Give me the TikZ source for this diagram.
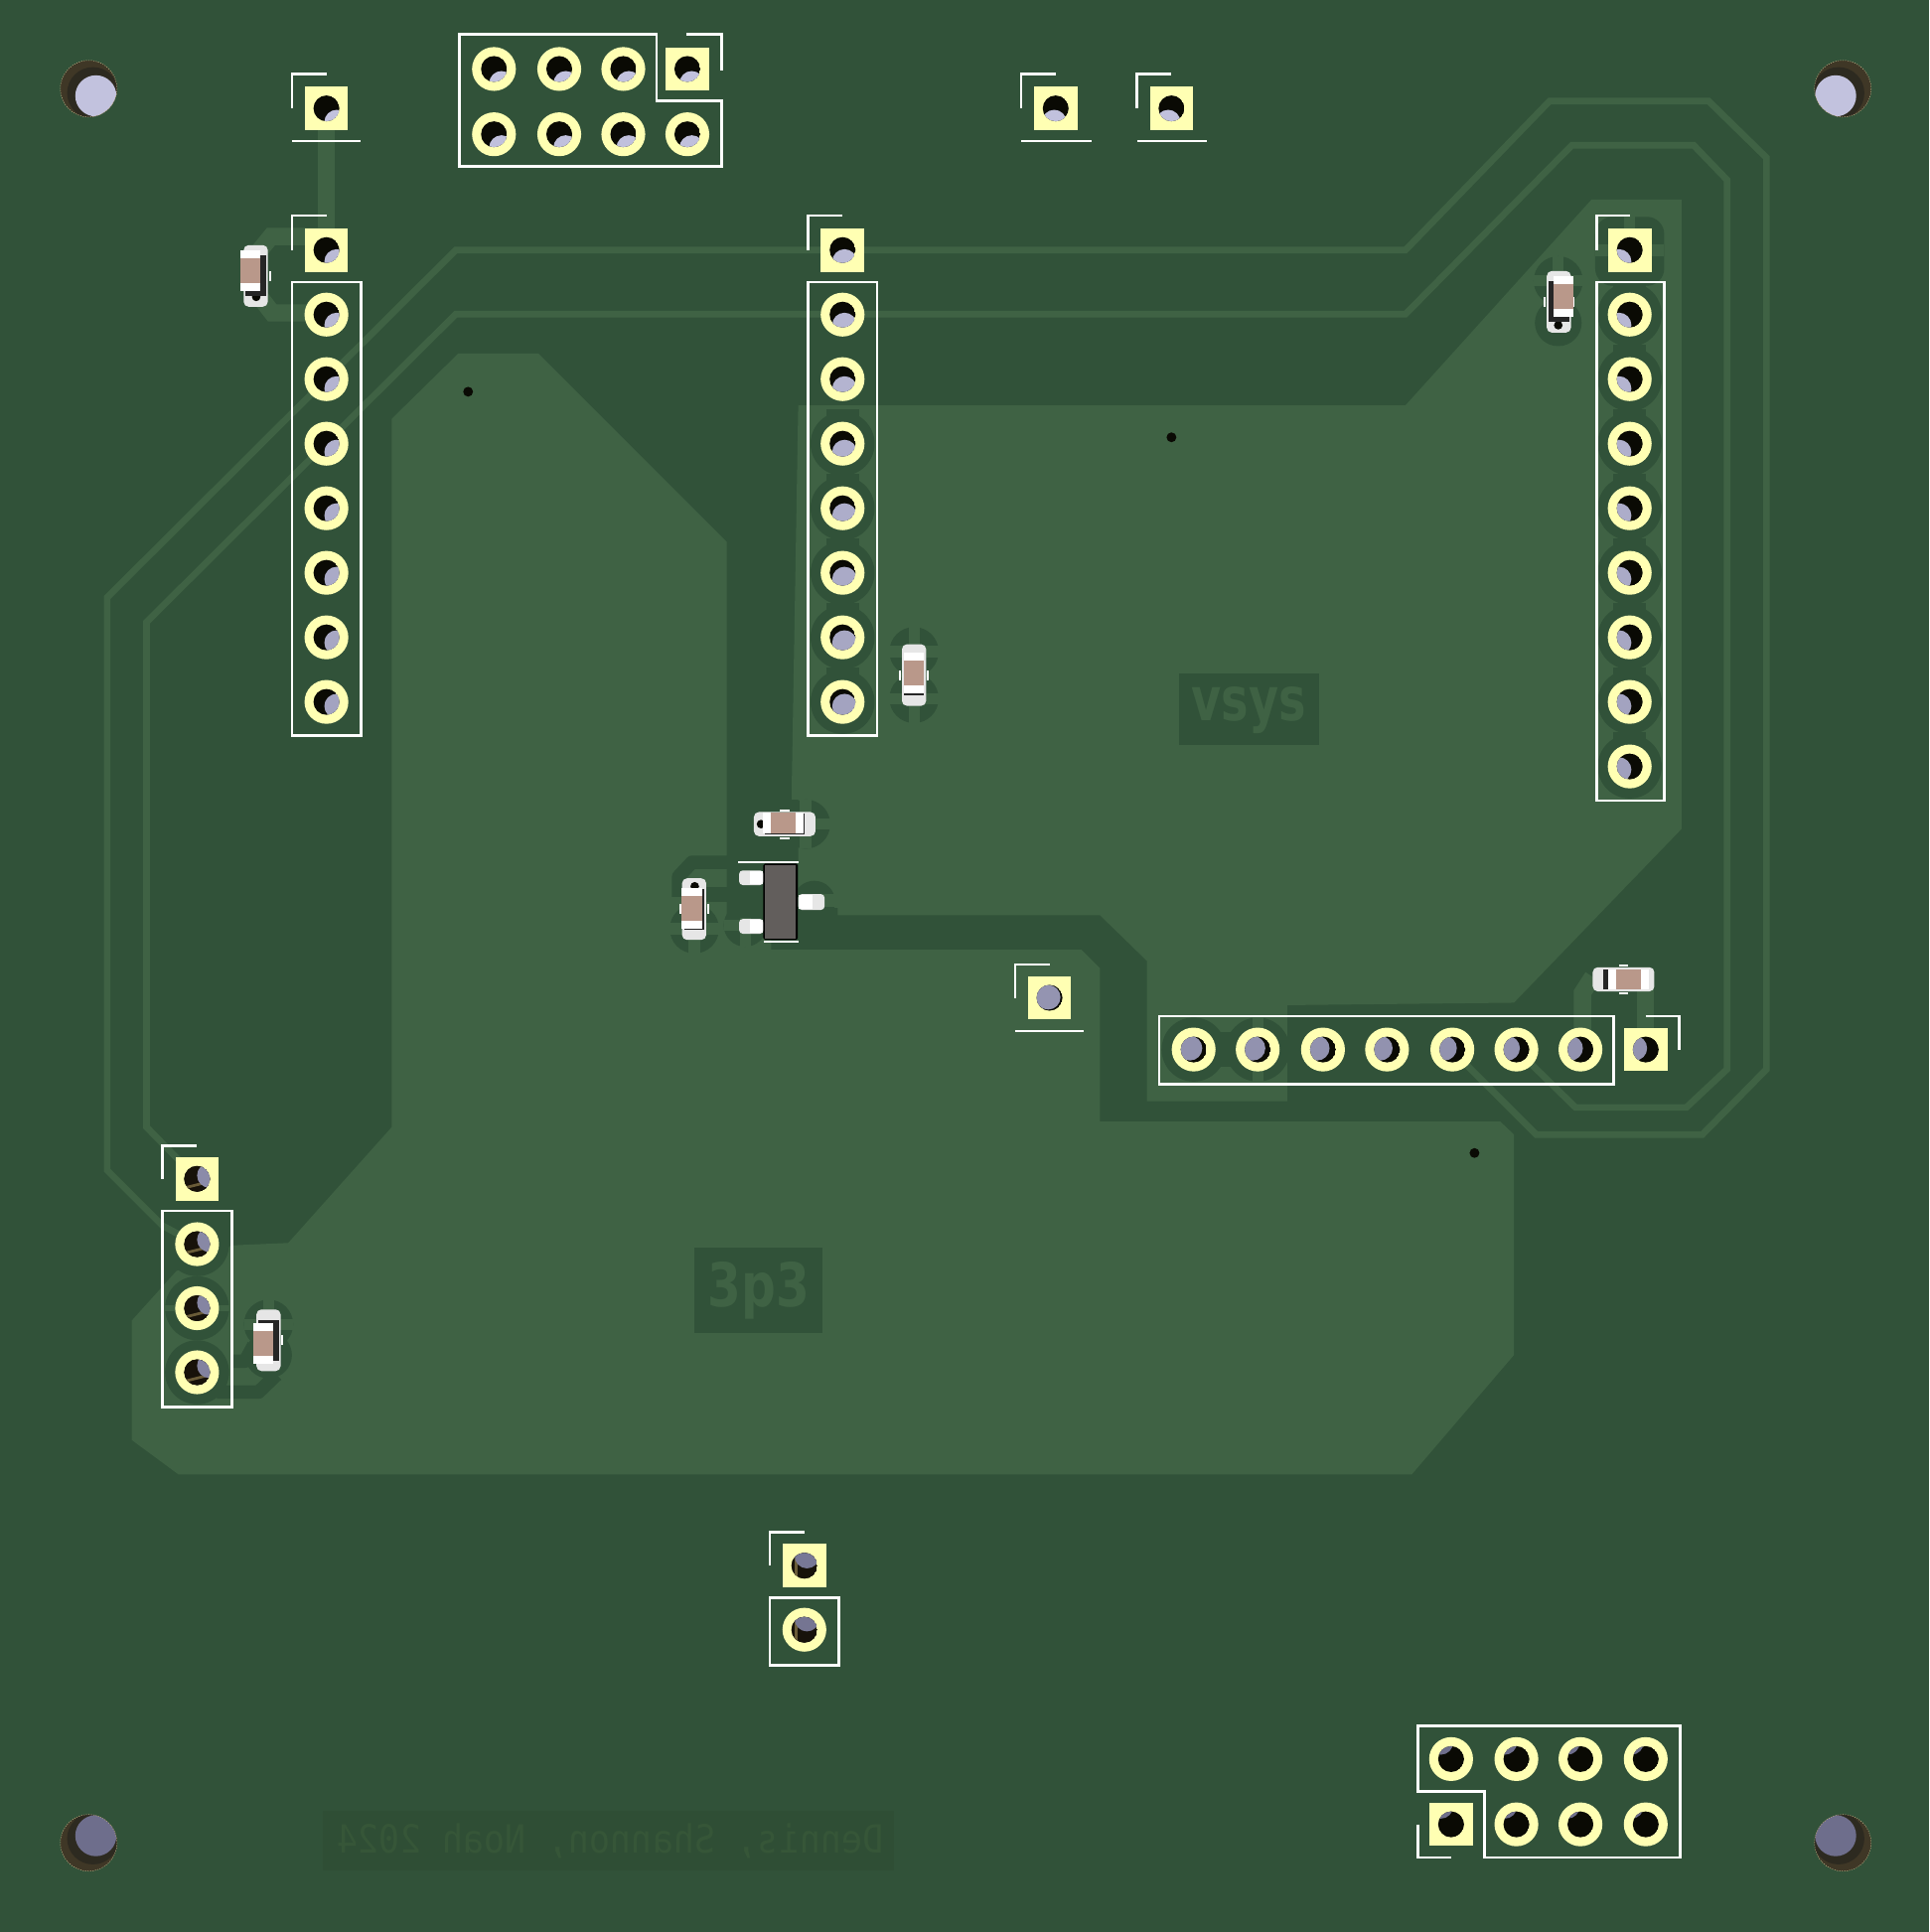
\documentclass[tikz,border=0pt]{standalone}
\usepackage{fontspec}
\newfontfamily\silkfont{DejaVu Sans}
\newfontfamily\silkmono{DejaVu Sans Mono}
\definecolor{basegreen}{HTML}{315239}
\definecolor{pourgreen}{HTML}{3F6244}
\definecolor{rectgreen}{HTML}{2F4E35}
\definecolor{textgreen}{HTML}{365638}
\definecolor{padyellow}{HTML}{FFFFB3}
\definecolor{holeblack}{HTML}{0A0A04}
\definecolor{holehi}{HTML}{C2C2DE}
\definecolor{holelo}{HTML}{6E6E8C}
\definecolor{padgray}{HTML}{E6E6E6}
\definecolor{chiptan}{HTML}{B9988A}
\definecolor{chipside}{HTML}{262626}
\definecolor{fetbody}{HTML}{625E5C}
\definecolor{mountbrown}{HTML}{3F3726}
\definecolor{mountring}{HTML}{2D2A20}
\definecolor{mountedge}{HTML}{BDAF85}
\definecolor{wallbrown}{HTML}{17120A}
\definecolor{wallgold}{HTML}{6A5C38}
\tikzset{
	silk/.style={draw=white, line width=2.2pt},
	trace/.style={draw=pourgreen, line width=5.4pt},
	widetrace/.style={draw=pourgreen, line width=14pt},
	darktrace/.style={draw=basegreen, line width=11pt, line join=round}
}
% hole, lit disc moves towards the middle of the board
\newcommand{\pcbhole}[2]{%
	\pgfmathsetmacro{\hx}{#1}
	\pgfmathsetmacro{\hy}{#2}
	\pgfmathsetmacro{\hk}{0.016+0.005*(\hy>1400)}
	\pgfmathsetmacro{\hdx}{(783-\hx)*\hk}
	\pgfmathsetmacro{\hdy}{(784-\hy)*\hk}
	\pgfmathsetmacro{\hpct}{min(100,max(0,(\hy-78)/13.52))}
	\colorlet{holelit}{holelo!\hpct!holehi}
	\begin{scope}
		\clip (\hx,\hy) circle (10.5);
		\fill[holeblack] (\hx,\hy) circle (10.5);
		\ifdim\hy pt>950pt
			\ifdim\hx pt<300pt
				\fill[wallbrown] (\hx,\hy) circle (10.5);
				\draw[wallgold, line width=2.2pt] (\hx-9,\hy+7) -- (\hx+7,\hy+3);
			\else\ifdim\hx pt<1000pt
				\fill[wallbrown] (\hx,\hy) circle (10.5);
				\draw[wallgold, line width=2.5pt] (\hx-7,\hy-6) -- (\hx-7,\hy+11);
			\fi\fi
		\fi
		\fill[holelit] (\hx+\hdx,\hy+\hdy) circle (10);
	\end{scope}}
\newcommand{\pinround}[2]{%
	\pgfmathsetmacro{\px}{#1}
	\pgfmathsetmacro{\py}{#2}
	\fill[padyellow] (\px,\py) circle (17.8);
	\pcbhole{\px}{\py}}
\newcommand{\pinsquare}[2]{%
	\fill[padyellow] (#1-17.6,#2-17.6) rectangle (#1+17.6,#2+17.6);
	\pcbhole{#1}{#2}}
\newcommand{\mounthole}[2]{%
	\pgfmathsetmacro{\mdx}{(783-#1)*0.0082}
	\pgfmathsetmacro{\mdy}{(784-#2)*0.0082}
	\pgfmathsetmacro{\mpct}{min(100,max(0,(#2-78)/13.52))}
	\colorlet{holelit}{holelo!\mpct!holehi}
	\fill[mountbrown] (#1,#2) circle (23);
	\begin{scope}
		\clip (#1,#2) circle (23);
		\fill[mountring] (#1+\mdx*0.6,#2+\mdy*0.6) circle (21);
		\fill[holelit] (#1+\mdx,#2+\mdy) circle (16.7);
	\end{scope}
	\draw[mountedge, line width=0.4pt, dashed, dash pattern=on 1pt off 1pt] (#1,#2) circle (23);}
% chip: pads at board level, body lifted away from the middle
% args: x, y, rotation, then the small hole under one end
\newcommand{\chipres}[5]{%
	\pgfmathsetmacro{\cdx}{(#1-783)*0.008}
	\pgfmathsetmacro{\cdy}{(#2-784)*0.008}
	\begin{scope}[shift={(#1,#2)}, rotate=#3]
		\fill[padgray, rounded corners=4pt] (-25,-9.8) rectangle (25,9.8);
		\fill[white] (-4,-12.2) rectangle (4,-10.6);
		\fill[white] (-4,10.6) rectangle (4,12.2);
	\end{scope}
	\fill[holeblack] (#4,#5) circle (3.5);
	\begin{scope}[shift={(#1,#2)}, rotate=#3]
		\fill[chipside] (-16.5,-8.2) rectangle (16.5,8.2);
	\end{scope}
	\begin{scope}[shift={(#1+\cdx,#2+\cdy)}, rotate=#3]
		\fill[white] (-16.5,-8.2) rectangle (16.5,8.2);
		\fill[chiptan] (-10,-8.2) rectangle (10,8.2);
	\end{scope}}
\newcommand{\thermal}[3]{%
	\fill[basegreen] (#1,#2) circle (#3);
	\draw[pourgreen, line width=9pt] (#1-#3,#2) -- (#1+#3,#2);
	\draw[pourgreen, line width=9pt] (#1,#2-#3) -- (#1,#2+#3);}
\begin{document}
\begin{tikzpicture}[x=1pt, y=-1pt]
	\useasboundingbox (0,0) rectangle (1566,1568.4);
	\fill[basegreen] (0,0) rectangle (1566,1568.4);

% copper pours

	%3p3
	\fill[pourgreen] (318,340) -- (372,287) -- (437,287) -- (590,440) -- (590,745) -- (626,745) -- (626,771) -- (878,771) -- (893,786) -- (893,910.5) -- (1218,910.5) -- (1229,921) -- (1229,1100) -- (1146,1197) -- (145,1197) -- (107,1169) -- (107,1072) -- (143,1032) -- (188,1011) -- (234,1009) -- (318,915) -- cycle;

	%vsys
	\fill[pourgreen] (648,329) -- (642.7,640) -- (642.7,649) -- (648,649) -- (648,737) -- (680,737) -- (680,743) -- (893,743) -- (931,780) -- (931,894) -- (1045,894) -- (1045,816) -- (1229,814) -- (1365,673) -- (1365,162) -- (1292,162) -- (1141,329) -- cycle;

% clearance round the pads

	%centre header
	\foreach \i in {3,...,7} {
		\fill[basegreen] (684,203+52.4*\i) circle (26);
		\fill[basegreen] (670.5,203+52.4*\i-28) rectangle (697.5,203+52.4*\i);
	}

	%right header
	\foreach \i in {1,...,8} {
		\fill[basegreen] (1323,203+52.4*\i) circle (26);
		\fill[basegreen] (1309.5,203+52.4*\i-28) rectangle (1336.5,203+52.4*\i);
	}
	\fill[basegreen, rounded corners=14pt] (1295,176) rectangle (1351,232);
	\draw[pourgreen, line width=10pt] (1295,203) -- (1351,203);
	\draw[pourgreen, line width=9pt] (1323,176) -- (1323,203);

	%left header
	\fill[basegreen] (160,1010) circle (26);
	\fill[basegreen] (160,1062) circle (26);
	\fill[basegreen] (160,1114) circle (26);
	\draw[pourgreen, line width=5pt] (134,1062) -- (186,1062);

	%pin row
	\fill[basegreen] (969,852) circle (26);
	\fill[basegreen] (1021,852) circle (26);
	\fill[basegreen] (985,838) rectangle (1005,866);
	\draw[pourgreen, line width=9pt] (1021,826) -- (1021,878);

	%chips
	\thermal{742}{529}{20}
	\thermal{742}{567}{20}
	\thermal{1265}{228}{20}
	\fill[basegreen] (1265,262) circle (19);
	\thermal{654}{669}{20}
	\thermal{563.7}{754}{20}
	\thermal{218}{1075}{20}
	\fill[basegreen] (218,1100) circle (19);

	%transistor
	\thermal{605}{751}{17.5}
	\fill[basegreen] (661,732) circle (17);
	\draw[pourgreen, line width=10pt] (661,731) -- (680,731);

	%links in the pour
	\draw[darktrace] (551,728) -- (551,711.5) -- (561.8,700) -- (604.8,700);
	\fill[basegreen] (572.6,720.4) rectangle (618,732.5);
	\fill[basegreen] (590,732.5) rectangle (618,745);
	\draw[darktrace] (176,1130) -- (210,1130) -- (224.5,1116);
	\draw[darktrace] (189.5,1105) -- (199,1105) -- (206,1092);

% thin traces

	\draw[trace] (1178,852) -- (1247,921) -- (1382,921) -- (1434,868) -- (1434,128) -- (1387,82) -- (1258,82) -- (1141,203) -- (370,203) -- (87,485) -- (87,950) -- (132,995) -- (160,1010);
	\draw[trace] (1231,852) -- (1279,899) -- (1369,899) -- (1402,868) -- (1402,146) -- (1375,118) -- (1276,118) -- (1141,255) -- (370,255) -- (119,505) -- (119,915) -- (160,957);

	\draw[widetrace] (265,88) -- (265,203);
	\draw[widetrace] (265,192) -- (220,192) -- (207,208);
	\draw[widetrace] (207,236) -- (221,254) -- (265,254);
	\draw[widetrace] (1284.6,852) -- (1284.6,806) -- (1293,793);
	\draw[widetrace] (1336,852) -- (1336,795);

% copper text

	\fill[basegreen] (957,547) rectangle (1071,605);
	\node[text=pourgreen, font=\silkfont\bfseries\fontsize{49pt}{49pt}\selectfont, xscale=0.76, anchor=base, inner sep=0pt] (vsyslabel) at (1013.7,585) {vsys};
	\fill[basegreen] (564,1013) rectangle (668,1082);
	\node[text=pourgreen, font=\silkfont\bfseries\fontsize{49pt}{49pt}\selectfont, xscale=0.8, anchor=base, inner sep=0pt] (threelabel) at (616,1061) {3p3};
	\fill[rectgreen] (262,1470) rectangle (726,1518);
	\node[text=textgreen, font=\silkmono\fontsize{31.5pt}{31.5pt}\selectfont, xscale=-0.9, anchor=base, inner sep=0pt] (creditlabel) at (495.6,1504) {Dennis, Shannon, Noah 2024};

% silk

	%top header
	\draw[silk] (373,28) -- (533,28) -- (533,82) -- (586,82) -- (586,135) -- (373,135) -- cycle;
	\draw[silk] (557,28) -- (586,28) -- (586,57);

	%single pads
	\draw[silk] (237,88) -- (237,60) -- (265,60);
	\draw[silk] (237,114.5) -- (293,114.5);
	\draw[silk] (829,88) -- (829,60) -- (857,60);
	\draw[silk] (829,114.5) -- (886,114.5);
	\draw[silk] (923,88) -- (923,60) -- (951,60);
	\draw[silk] (923,114.5) -- (980,114.5);
	\draw[silk] (824,810) -- (824,783) -- (852,783);
	\draw[silk] (824,837) -- (880,837);

	%columns
	\draw[silk] (237,203) -- (237,175) -- (265,175);
	\draw[silk] (237,229) rectangle (293,597);
	\draw[silk] (656,203) -- (656,175) -- (684,175);
	\draw[silk] (656,229) rectangle (712,597);
	\draw[silk] (1296,203) -- (1296,175) -- (1323,175);
	\draw[silk] (1296,229) rectangle (1351,650);
	\draw[silk] (132,957) -- (132,930) -- (160,930);
	\draw[silk] (132,983) rectangle (188,1142);
	\draw[silk] (625,1271) -- (625,1244) -- (653,1244);
	\draw[silk] (625,1297) rectangle (681,1352);

	%row
	\draw[silk] (941,825) rectangle (1310,880);
	\draw[silk] (1336,825) -- (1363,825) -- (1363,852);

	%bottom header
	\draw[silk] (1151,1401) -- (1364,1401) -- (1364,1508) -- (1205,1508) -- (1205,1454) -- (1151,1454) -- cycle;
	\draw[silk] (1151,1481) -- (1151,1508) -- (1178,1508);

% pads

	\foreach \x in {401,454,506} {
		\pinround{\x}{56}
		\pinround{\x}{109}
	}
	\pinround{558}{109}
	\pinsquare{558}{56}

	\pinsquare{265}{88}
	\pinsquare{857}{88}
	\pinsquare{951}{88}
	\pinsquare{852}{810}

	\pinsquare{265}{203}
	\pinsquare{684}{203}
	\pinsquare{1323}{203}
	\foreach \i in {1,...,7} {
		\pinround{265}{203+52.4*\i}
		\pinround{684}{203+52.4*\i}
	}
	\foreach \i in {1,...,8} {
		\pinround{1323}{203+52.4*\i}
	}

	\pinsquare{160}{957}
	\foreach \y in {1010,1062,1114} {
		\pinround{160}{\y}
	}
	\pinsquare{653}{1271}
	\pinround{653}{1323}

	\pinsquare{1336}{852}
	\foreach \x in {969,1021,1074,1126,1179,1231,1283} {
		\pinround{\x}{852}
	}

	\pinsquare{1178}{1481}
	\foreach \x in {1178,1231,1283,1336} {
		\pinround{\x}{1428}
	}
	\foreach \x in {1231,1283,1336} {
		\pinround{\x}{1481}
	}

% board holes

	\mounthole{72}{72}
	\mounthole{1496}{72}
	\mounthole{72}{1496}
	\mounthole{1496}{1496}

	\fill[holeblack] (380,318) circle (4);
	\fill[holeblack] (951,355) circle (4);
	\fill[holeblack] (1197,936) circle (4);

% chips

	\chipres{207.6}{224}{90}{208}{241}
	\chipres{742}{548}{90}{742}{548}
	\chipres{1265.5}{245}{90}{1265}{264}
	\chipres{637}{669}{0}{617.8}{669}
	\chipres{563.5}{738}{90}{564}{719.5}
	\chipres{1318}{795}{0}{1318}{795}
	\chipres{218}{1088}{90}{218}{1088}

% transistor

	\fill[padgray, rounded corners=3pt] (600,706.6) rectangle (620,718.5);
	\fill[padgray, rounded corners=3pt] (600,746) rectangle (620,758);
	\fill[padgray, rounded corners=3pt] (648,725.8) rectangle (669.4,738.7);
	\fill[white] (609,707.5) rectangle (619,717.5);
	\fill[white] (609,747) rectangle (619,757);
	\fill[white] (648,726.5) rectangle (660,738);
	\fill[black, rounded corners=1.5pt] (619.6,701) rectangle (647.7,763);
	\fill[fetbody] (620.6,702) rectangle (645.5,762);
	\draw[silk] (599.5,700) -- (648,700);
	\draw[silk] (620,764.5) -- (648,764.5);
\end{tikzpicture}
\end{document}
